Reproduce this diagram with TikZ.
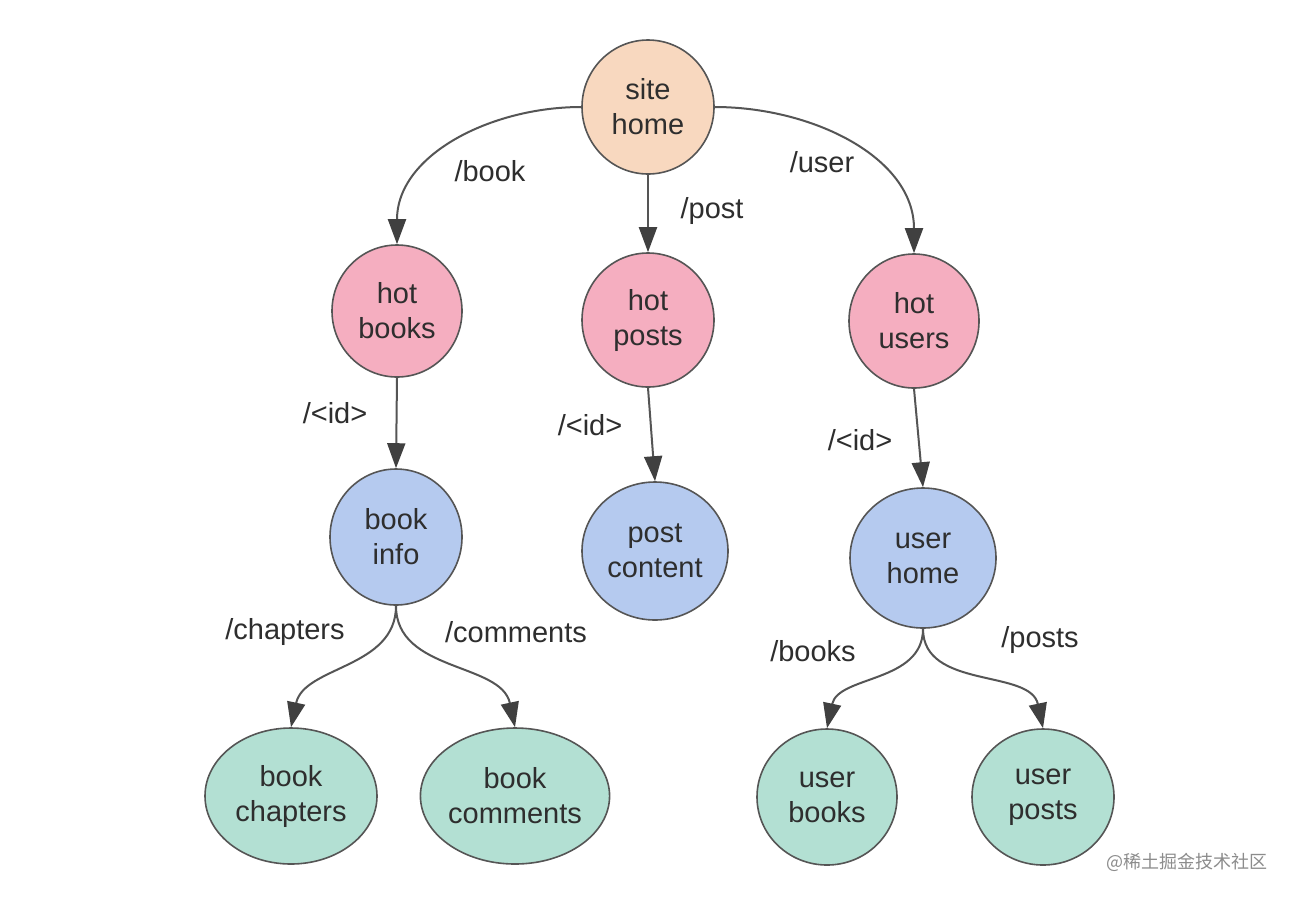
\documentclass[tikz,border=0pt]{standalone}
\usepackage{fontspec}
\setmainfont{Liberation Sans}
\newfontfamily\cjk{Noto Sans CJK SC}
\usetikzlibrary{shapes.geometric,arrows.meta}
\definecolor{peach}{HTML}{F8D8BF}
\definecolor{pinkc}{HTML}{F5AEC0}
\definecolor{bluec}{HTML}{B5CAEF}
\definecolor{greenc}{HTML}{B3E0D3}
\definecolor{edgec}{HTML}{555555}
\definecolor{headc}{HTML}{404040}
\definecolor{txt}{HTML}{2E2E2E}
\begin{document}
\begin{tikzpicture}[x=1pt,y=-1pt,
  nd/.style={ellipse,draw=edgec,line width=1.6pt,inner sep=0pt,align=center,text=txt,
    font=\fontsize{29}{35}\selectfont},
  sz/.style 2 args={minimum width=#1,minimum height=#2},
  lbl/.style={text=txt,inner sep=0pt,font=\fontsize{29}{35}\selectfont},
  conn/.style={draw=edgec,line width=2pt,-{Triangle[length=25pt,width=18pt,color=headc]}}]
\useasboundingbox (0,0) rectangle (1292,898);
\fill[white] (0,0) rectangle (1292,898);

% nodes
\node[nd,fill=peach,sz={132pt}{134pt}] (sh) at (648,107) {site\\home};
\node[nd,fill=pinkc,sz={130pt}{132pt}] (hb) at (397,311) {hot\\books};
\node[nd,fill=pinkc,sz={132pt}{134pt}] (hp) at (648,320) {hot\\posts};
\node[nd,fill=pinkc,sz={130pt}{134pt}] (hu) at (914,321) {hot\\users};
\node[nd,fill=bluec,sz={132pt}{136pt}] (bi) at (396,537) {book\\info};
\node[nd,fill=bluec,sz={146pt}{138pt}] (pc) at (655,551) {post\\content};
\node[nd,fill=bluec,sz={146pt}{140pt}] (uh) at (923,558) {user\\home};
\node[nd,fill=greenc,sz={172pt}{136pt}] (bc) at (291,796) {book\\chapters};
\node[nd,fill=greenc,sz={184pt}{136pt}] (bm) at (515,796) {book\\comments};
\node[nd,fill=greenc,sz={140pt}{136pt}] (ub) at (827,797) {user\\books};
\node[nd,fill=greenc,sz={142pt}{136pt}] (up) at (1043,797) {user\\posts};

% connectors
\draw[conn] (sh.west) to[out=180,in=90] (hb.north);
\draw[conn] (sh.south) -- (hp.north);
\draw[conn] (sh.east) to[out=0,in=90] (hu.north);
\draw[conn] (hb.south) -- (bi.north);
\draw[conn] (hp.south) -- (pc.north);
\draw[conn] (hu.south) -- (uh.north);
\draw[conn] (bi.south) to[out=-90,in=78] (bc.north);
\draw[conn] (bi.south) to[out=-90,in=102] (bm.north);
\draw[conn] (uh.south) to[out=-90,in=78] (ub.north);
\draw[conn] (uh.south) to[out=-90,in=102] (up.north);

% labels
\node[lbl] (l1) at (490,171) {/book};
\node[lbl] (l2) at (712,211) {/post};
\node[lbl] (l3) at (822,162) {/user};
\node[lbl] (l4) at (335,413) {/<id>};
\node[lbl] (l5) at (590,425) {/<id>};
\node[lbl] (l6) at (860,440) {/<id>};
\node[lbl] (l7) at (285,632) {/chapters};
\node[lbl] (l8) at (516,632) {/comments};
\node[lbl] (l9) at (813,651) {/books};
\node[lbl] (l10) at (1040,640) {/posts};

% watermark
\node[inner sep=0pt,text=black!45,font=\cjk\fontsize{18}{20}\selectfont] (wm) at (1187,862) {@稀土掘金技术社区};
\end{tikzpicture}
\end{document}
